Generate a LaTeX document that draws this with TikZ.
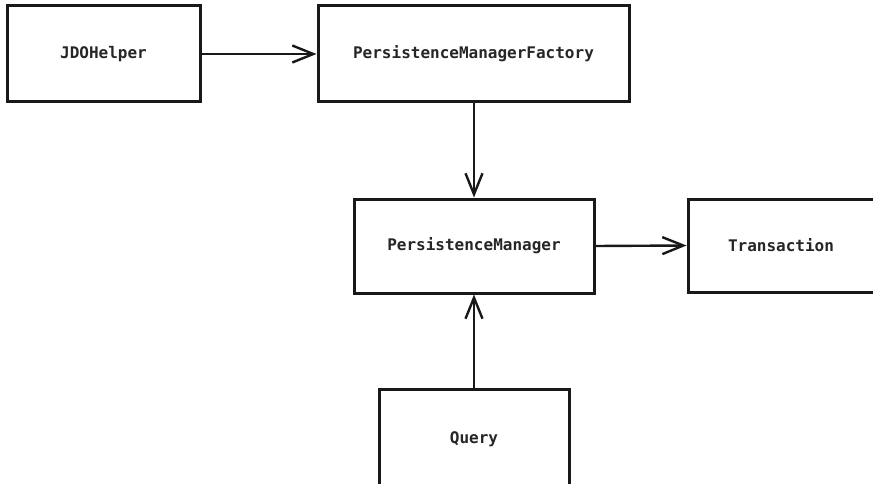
\documentclass[tikz,border=0pt]{standalone}
\usepackage{fontspec}
\setmonofont{DejaVu Sans Mono}
\usetikzlibrary{arrows.meta}
\begin{document}
\begin{tikzpicture}[x=1pt,y=-1pt,
  box/.style={draw=black!90, line width=3pt, rectangle, inner sep=0pt,
    font=\ttfamily\bfseries\fontsize{16}{19}\selectfont, text=black!85},
  conn/.style={draw=black!90, line width=2.4pt,
    -{Straight Barb[length=21pt,width=17pt,line width=2.4pt]}}]
\useasboundingbox (0,0) rectangle (873,484);
\node[box, minimum width=193pt, minimum height=96pt] (j) at (103.5,54) {JDOHelper};
\node[box, minimum width=311pt, minimum height=96pt] (f) at (473.5,54) {PersistenceManagerFactory};
\node[box, minimum width=240pt, minimum height=94pt] (pm) at (474,246) {PersistenceManager};
\node[box, minimum width=200pt, minimum height=93pt, text width=200pt, align=left] (t) at (788,245.5) {\hspace*{40pt}Transaction};
\node[box, minimum width=190pt, minimum height=100pt] (q) at (474,439) {\raisebox{-6pt}{Query}};
\draw[conn] (j.east) -- (f.west);
\draw[conn] (f.south -| pm.north) -- (pm.north);
\draw[conn] (pm.east) -- (t.west);
\draw[conn] (q.north) -- (pm.south);
\end{tikzpicture}
\end{document}
